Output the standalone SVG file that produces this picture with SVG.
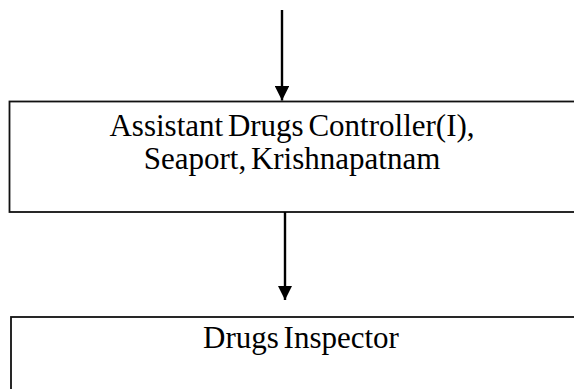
<svg xmlns="http://www.w3.org/2000/svg" width="574" height="389" viewBox="0 0 574 389">
<style>
.box{fill:#fff;stroke:#111;stroke-width:1.8}
.lbl{font-family:"Liberation Serif","Times New Roman",serif;font-size:31px;fill:#000;text-anchor:middle;word-spacing:-3px}
.conn{stroke:#000;stroke-width:2.4;fill:none}
</style>
<defs>
<marker id="ah" viewBox="0 0 10 10" refX="10" refY="5" markerWidth="6" markerHeight="6" markerUnits="strokeWidth" orient="auto">
<path d="M0,0 L10,5 L0,10 z" fill="#000"/>
</marker>
</defs>
<rect width="574" height="389" fill="#fff"/>
<g id="node-adc">
<rect class="box" x="9.5" y="101.5" width="600" height="110.5"/>
<text class="lbl" x="292" y="136">Assistant Drugs Controller(I),</text>
<text class="lbl" x="292" y="169">Seaport, Krishnapatnam</text>
</g>
<g id="node-di">
<rect class="box" x="11" y="317" width="600" height="100"/>
<text class="lbl" x="301" y="347.5">Drugs Inspector</text>
</g>
<g id="connectors">
<line class="conn" x1="282" y1="10" x2="282" y2="100.5" marker-end="url(#ah)"/>
<line class="conn" x1="285" y1="212" x2="285" y2="300" marker-end="url(#ah)"/>
</g>
</svg>
